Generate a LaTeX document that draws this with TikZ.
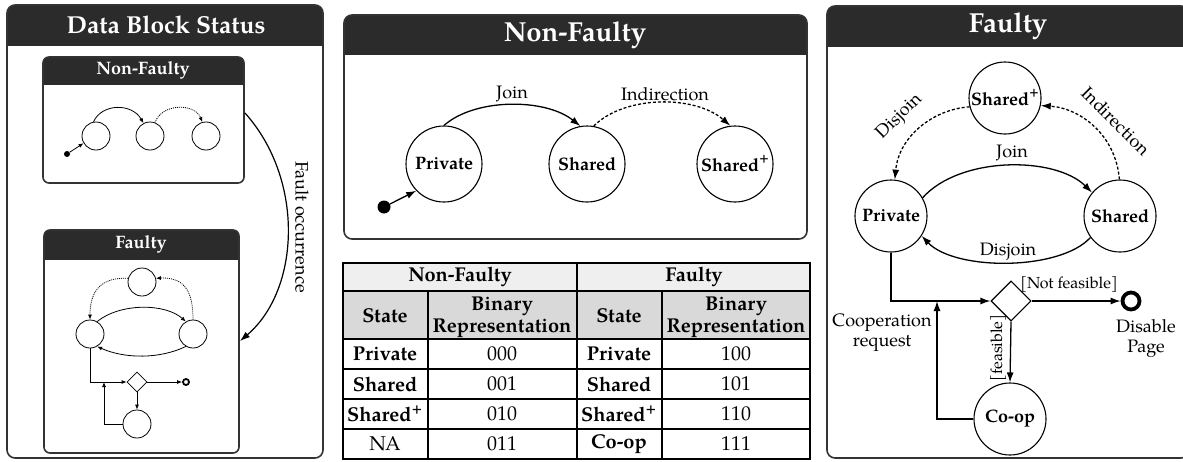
\documentclass[tikz,border=0pt]{standalone}
\usepackage{fontspec}
\setmainfont{TeX Gyre Pagella}
\usetikzlibrary{arrows.meta,shapes.geometric,calc}
\definecolor{hdr}{HTML}{2B2B2B}
\definecolor{bord}{HTML}{333333}
\definecolor{tgA}{HTML}{EFEFEF}
\definecolor{tgB}{HTML}{D9D9D9}
\newcommand\mypanel[6]{%
  \begin{scope}
    \clip (#1,#2) rectangle (#3,#5);
    \fill[hdr,rounded corners=#6] (#1,#2) rectangle (#3,#5+20);
  \end{scope}
  \draw[bord,line width=1.6pt,rounded corners=#6] (#1,#2) rectangle (#3,#4);
}
\newcommand\bplus{\raisebox{0.5em}{\fontsize{13}{13}\selectfont\bfseries +}}
\begin{document}
\begin{tikzpicture}[x=1pt,y=-1pt,
  st/.style={circle,draw,line width=1.1pt,minimum size=76pt,inner sep=0pt,font=\fontsize{18}{20}\selectfont\bfseries},
  fst/.style={st,minimum size=72pt},
  ms/.style={circle,draw,line width=0.8pt,minimum size=28pt,inner sep=0pt},
  ttl/.style={text=white,font=\fontsize{27.5}{30}\selectfont\bfseries},
  sttl/.style={text=white,font=\fontsize{18}{20}\selectfont\bfseries},
  lbl/.style={font=\fontsize{18}{20}\selectfont},
  slbl/.style={font=\fontsize{16}{18}\selectfont},
  tb/.style={font=\fontsize{20}{22}\selectfont\bfseries,align=center},
  tn/.style={font=\fontsize{20}{22}\selectfont,align=center},
  arr/.style={line width=1.3pt,-{Latex[length=10pt,width=7pt]}},
  darr/.style={arr,dash pattern=on 3pt off 2pt},
  marr/.style={line width=0.8pt,-{Latex[length=5pt,width=4pt]}},
  mdarr/.style={marr,dash pattern=on 1pt off 1pt}]
\useasboundingbox (0,0) rectangle (1183,461);
\clip (0,0) rectangle (1183,461);

% ---------------- Left panel ----------------
\mypanel{7}{5}{323}{458}{45}{8}
\node[ttl,font=\fontsize{24.5}{28}\selectfont\bfseries] (t1) at (166,25) {Data Block Status};

\mypanel{43}{57}{244}{183}{84}{6}
\node[sttl] (t2) at (143,70) {Non-Faulty};
\node[ms] (ma) at (96,136) {};
\node[ms] (nb) at (150,136) {};
\node[ms] (nc) at (206,136) {};
\node[circle,fill,inner sep=0pt,minimum size=6pt] (md) at (67,154) {};
\draw[marr] (md) -- (ma.210);
\draw[marr] (ma.100) .. controls (102,103) and (132,103) .. (nb.117);
\draw[mdarr] (nb.70) .. controls (162,103) and (195,103) .. (nc.105);

\coordinate (fo1) at (245,113);
\coordinate (fo2) at (240,341);
\draw[line width=1.2pt,-{Latex[length=10pt,width=7pt]}] (fo1) .. controls (305,180) and (300,290) .. (fo2);
\node[lbl,rotate=-90] (fol) at (302,227) {Fault occurrence};

\mypanel{44}{230}{239}{453}{259}{6}
\node[sttl] (t3) at (141,244) {Faulty};
\node[ms] (mt) at (142,282) {};
\node[ms] (ml) at (90,334) {};
\node[ms] (mr) at (193,334) {};
\node[ms] (mb) at (137,424) {};
\node[diamond,draw,line width=0.8pt,minimum size=20pt,inner sep=0pt] (mdia) at (137,382) {};
\node[circle,draw,line width=1.8pt,minimum size=6pt,inner sep=0pt] (mend) at (186,382) {};
\draw[mdarr] (mt.165) .. controls (100,277) and (90,292) .. (ml.90);
\draw[mdarr] (mr.90) .. controls (193,292) and (185,277) .. (mt.15);
\draw[marr] (ml.60) .. controls (120,303) and (165,303) .. (mr.120);
\draw[marr] (mr.240) .. controls (160,359) and (125,359) .. (ml.-60);
\draw[marr] (ml.south) |- (mdia.west);
\draw[marr] (mdia.south) -- (mb.north);
\draw[marr] (mdia.east) -- (mend.west);
\coordinate (mj) at (104,382);
\draw[marr] (mb.west) -| (mj);

% ---------------- Middle panel ----------------
\mypanel{344}{15}{807}{239}{54}{8}
\node[ttl] (t4) at (575,35) {Non-Faulty};
\node[st] (P) at (444,164) {Private};
\node[st] (S) at (587,164) {Shared};
\node[st] (SP) at (735,164) {Shared\bplus};
\node[circle,fill,inner sep=0pt,minimum size=13pt] (d0) at (384,207) {};
\draw[arr] (d0) -- (P.224);
\draw[arr] (P.90) .. controls (475,98) and (545,98) .. (S.100);
\draw[darr] (S.80) .. controls (625,95) and (695,95) .. (SP.97);
\node[lbl] (jl) at (512,94) {Join};
\node[lbl] (il) at (665,94) {Indirection};

% ---------------- Table ----------------
\fill[tgA] (343,263) rectangle (810,291);
\fill[tgB] (343,291) rectangle (810,339);
\draw[line width=1.4pt] (343,291) -- (810,291);
\foreach \yy in {339,369,399,429} \draw[line width=1.4pt] (343,\yy) -- (810,\yy);
\draw[line width=1.4pt] (428,291) -- (428,459);
\draw[line width=1.4pt] (662,291) -- (662,459);
\draw[line width=2.2pt] (577,263) -- (577,459);
\draw[line width=2.2pt] (343,263) rectangle (810,459);
\node[tb] (h1) at (460,277) {Non-Faulty};
\node[tb] (h2) at (694,277) {Faulty};
\node[tb] (h3) at (385,316) {State};
\node[tb] (h4) at (502,317) {Binary\\Representation};
\node[tb] (h5) at (619,316) {State};
\node[tb] (h6) at (736,317) {Binary\\Representation};
\node[tb] (a1) at (385,354) {Private};
\node[tn] (b1) at (502,354) {000};
\node[tb] (c1) at (619,354) {Private};
\node[tn] (e1) at (736,354) {100};
\node[tb] (a2) at (385,384) {Shared};
\node[tn] (b2) at (502,384) {001};
\node[tb] (c2) at (619,384) {Shared};
\node[tn] (e2) at (736,384) {101};
\node[tb] (a3) at (385,414) {Shared\textsuperscript{+}};
\node[tn] (b3) at (502,414) {010};
\node[tb] (c3) at (619,414) {Shared\textsuperscript{+}};
\node[tn] (e3) at (736,414) {110};
\node[tn] (a4) at (385,444) {NA};
\node[tn] (b4) at (502,444) {011};
\node[tb] (c4) at (619,444) {Co-op};
\node[tn] (e4) at (736,444) {111};

% ---------------- Right panel ----------------
\mypanel{827}{6}{1189}{458}{46}{8}
\node[ttl] (t5) at (1008,26) {Faulty};
\node[fst] (fSP) at (1005,98) {Shared\bplus};
\node[fst] (fP) at (891,216) {Private};
\node[fst] (fS) at (1120,216) {Shared};
\node[fst] (fC) at (1010,419) {Co-op};
\node[diamond,draw,line width=1.1pt,minimum size=40pt,inner sep=0pt] (fD) at (1011,301) {};
\node[circle,draw,line width=3.8pt,minimum size=17pt,inner sep=0pt] (fE) at (1131,301) {};
\draw[arr] (fP.30) .. controls (960,156) and (1055,156) .. (fS.140);
\draw[arr] (fS.216) .. controls (1060,271) and (955,271) .. (fP.-33);
\draw[darr] (fSP.194) .. controls (935,109) and (899,135) .. (fP.84);
\draw[darr] (fS.91) .. controls (1116,135) and (1080,108) .. (fSP.-12);
\node[lbl] (fjl) at (1012,153) {Join};
\node[lbl] (fdl) at (1008,252) {Disjoin};
\node[lbl,rotate=45] (fdl2) at (900,117) {Disjoin};
\node[lbl,rotate=-45] (fil) at (1116,121) {Indirection};
\draw[arr] (fP.south) |- (fD.west);
\draw[arr] (fD.south) -- (fC.north);
\coordinate (fj) at (937,301);
\draw[arr] (fC.west) -| (fj);
\draw[arr] (fD.east) -- (fE.west);
\node[slbl] (nf) at (1069,284) {[Not feasible]};
\node[slbl,rotate=90] (fe) at (998,348) {[feasible]};
\node[lbl,align=center] (cr) at (882,333) {Cooperation\\request};
\node[lbl,align=center] (dp) at (1146,339) {Disable\\Page};
\end{tikzpicture}
\end{document}
